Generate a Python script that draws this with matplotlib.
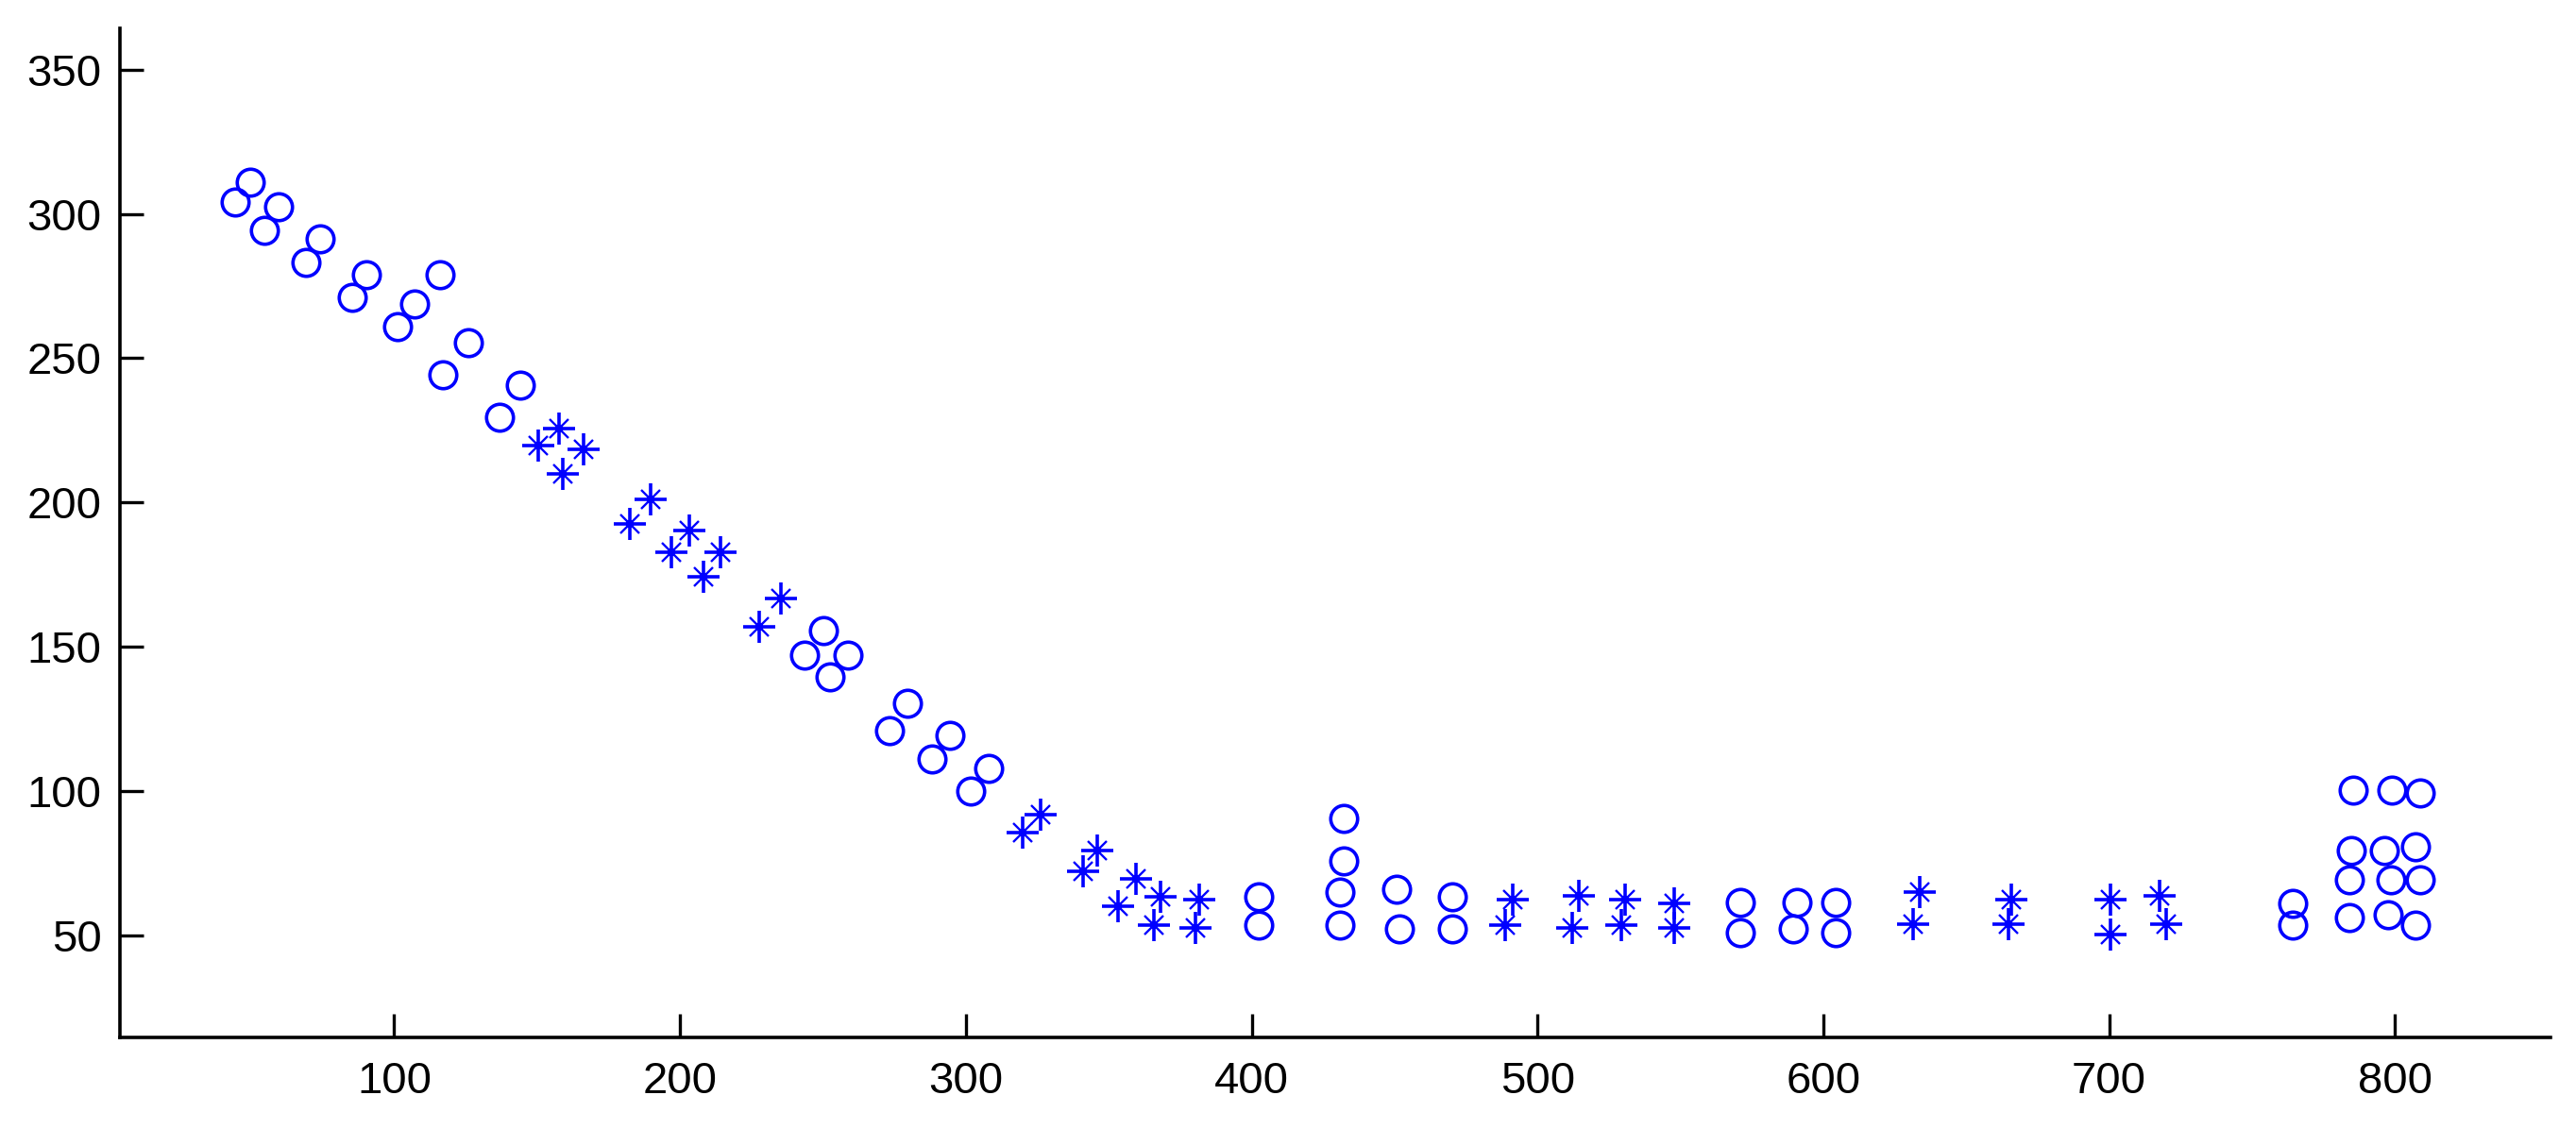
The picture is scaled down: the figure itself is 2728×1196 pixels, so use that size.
import matplotlib
matplotlib.use('Agg')
import matplotlib.pyplot as plt

# circle series ('o')
circle_x = [49.7, 44.5, 59.5, 54.5, 74.1, 69.1, 90.2, 85.2, 116.0, 107.2, 101.2, 125.9, 117.2, 144.2, 136.9,
            250.1, 243.5, 258.9, 252.5, 279.6, 273.4, 294.4, 288.1, 307.9, 301.6,
            402.6, 402.6, 432.1, 432.1, 430.9, 430.9, 450.7, 451.8, 470.3, 470.3,
            571.1, 571.1, 590.9, 589.6, 604.3, 604.3,
            764.3, 764.3, 785.3, 798.8, 808.7, 784.7, 796.3, 807.2, 783.9, 798.6, 808.7, 783.9, 797.5, 807.2]
circle_y = [310.9, 304.0, 302.4, 294.2, 291.3, 283.3, 279.0, 271.2, 278.8, 268.7, 260.8, 255.3, 244.1, 240.6, 229.4,
            155.7, 147.0, 147.0, 139.4, 130.4, 120.9, 119.3, 111.1, 107.8, 100.0,
            63.4, 53.6, 90.6, 75.7, 64.8, 53.4, 65.9, 52.3, 63.4, 52.3,
            61.2, 51.0, 61.2, 52.3, 61.2, 51.0,
            61.0, 53.6, 100.4, 100.4, 99.3, 79.5, 79.5, 80.6, 69.2, 69.2, 69.2, 56.1, 57.2, 53.6]

# star series ('*')
star_x = [157.8, 150.4, 166.4, 159.0, 189.7, 182.4, 197.0, 203.3, 214.3, 208.2, 235.2, 227.8,
          326.3, 320.0, 346.0, 341.0, 359.6, 353.4, 368.1, 365.7, 381.7, 380.4,
          491.2, 488.7, 514.6, 512.2, 530.6, 529.2, 547.7, 547.7, 633.8, 631.4, 665.8, 664.7,
          700.4, 700.4, 717.5, 720.0]
star_y = [225.7, 219.6, 218.3, 209.8, 201.1, 192.5, 182.7, 190.3, 182.7, 174.2, 166.8, 156.8,
          91.8, 85.5, 79.5, 72.1, 69.7, 60.2, 63.4, 53.6, 62.3, 52.5,
          62.3, 53.6, 63.5, 52.5, 62.3, 53.6, 61.0, 52.5, 64.8, 53.7, 62.3, 53.7,
          62.3, 50.1, 63.5, 53.7]

x_ticks = [100, 200, 300, 400, 500, 600, 700, 800]
y_ticks = [50, 100, 150, 200, 250, 300, 350]

blue = '#0000ff'
plt.rcParams['font.family'] = ['Liberation Sans', 'DejaVu Sans']

fig = plt.figure(figsize=(27.28, 11.96), dpi=100)
ax = fig.add_axes([0.0466, 0.0809, 0.9435, 0.894])

ax.plot(circle_x, circle_y, linestyle='none', marker='o', markersize=20.5,
        markerfacecolor='none', markeredgecolor=blue, markeredgewidth=2.6)

# MATLAB style asterisk: long plus with short diagonals and a solid centre
ax.plot(star_x, star_y, linestyle='none', marker='+', markersize=24,
        markeredgecolor=blue, markeredgewidth=2.6)
ax.plot(star_x, star_y, linestyle='none', marker='x', markersize=14,
        markeredgecolor=blue, markeredgewidth=1.7)
ax.plot(star_x, star_y, linestyle='none', marker='s', markersize=5.5,
        markerfacecolor=blue, markeredgecolor=blue, markeredgewidth=0)

ax.set_xlim(4.1, 854.4)
ax.set_ylim(14.5, 364.3)
ax.set_xticks(x_ticks)
ax.set_yticks(y_ticks)

ax.spines['top'].set_visible(False)
ax.spines['right'].set_visible(False)
ax.spines['left'].set_linewidth(2.6)
ax.spines['bottom'].set_linewidth(2.6)

ax.tick_params(axis='both', direction='in', length=18, width=2.4, labelsize=34, colors='black')
ax.tick_params(axis='x', pad=18)
ax.tick_params(axis='y', pad=14)

fig.savefig('out.png', dpi=100, facecolor='white')
